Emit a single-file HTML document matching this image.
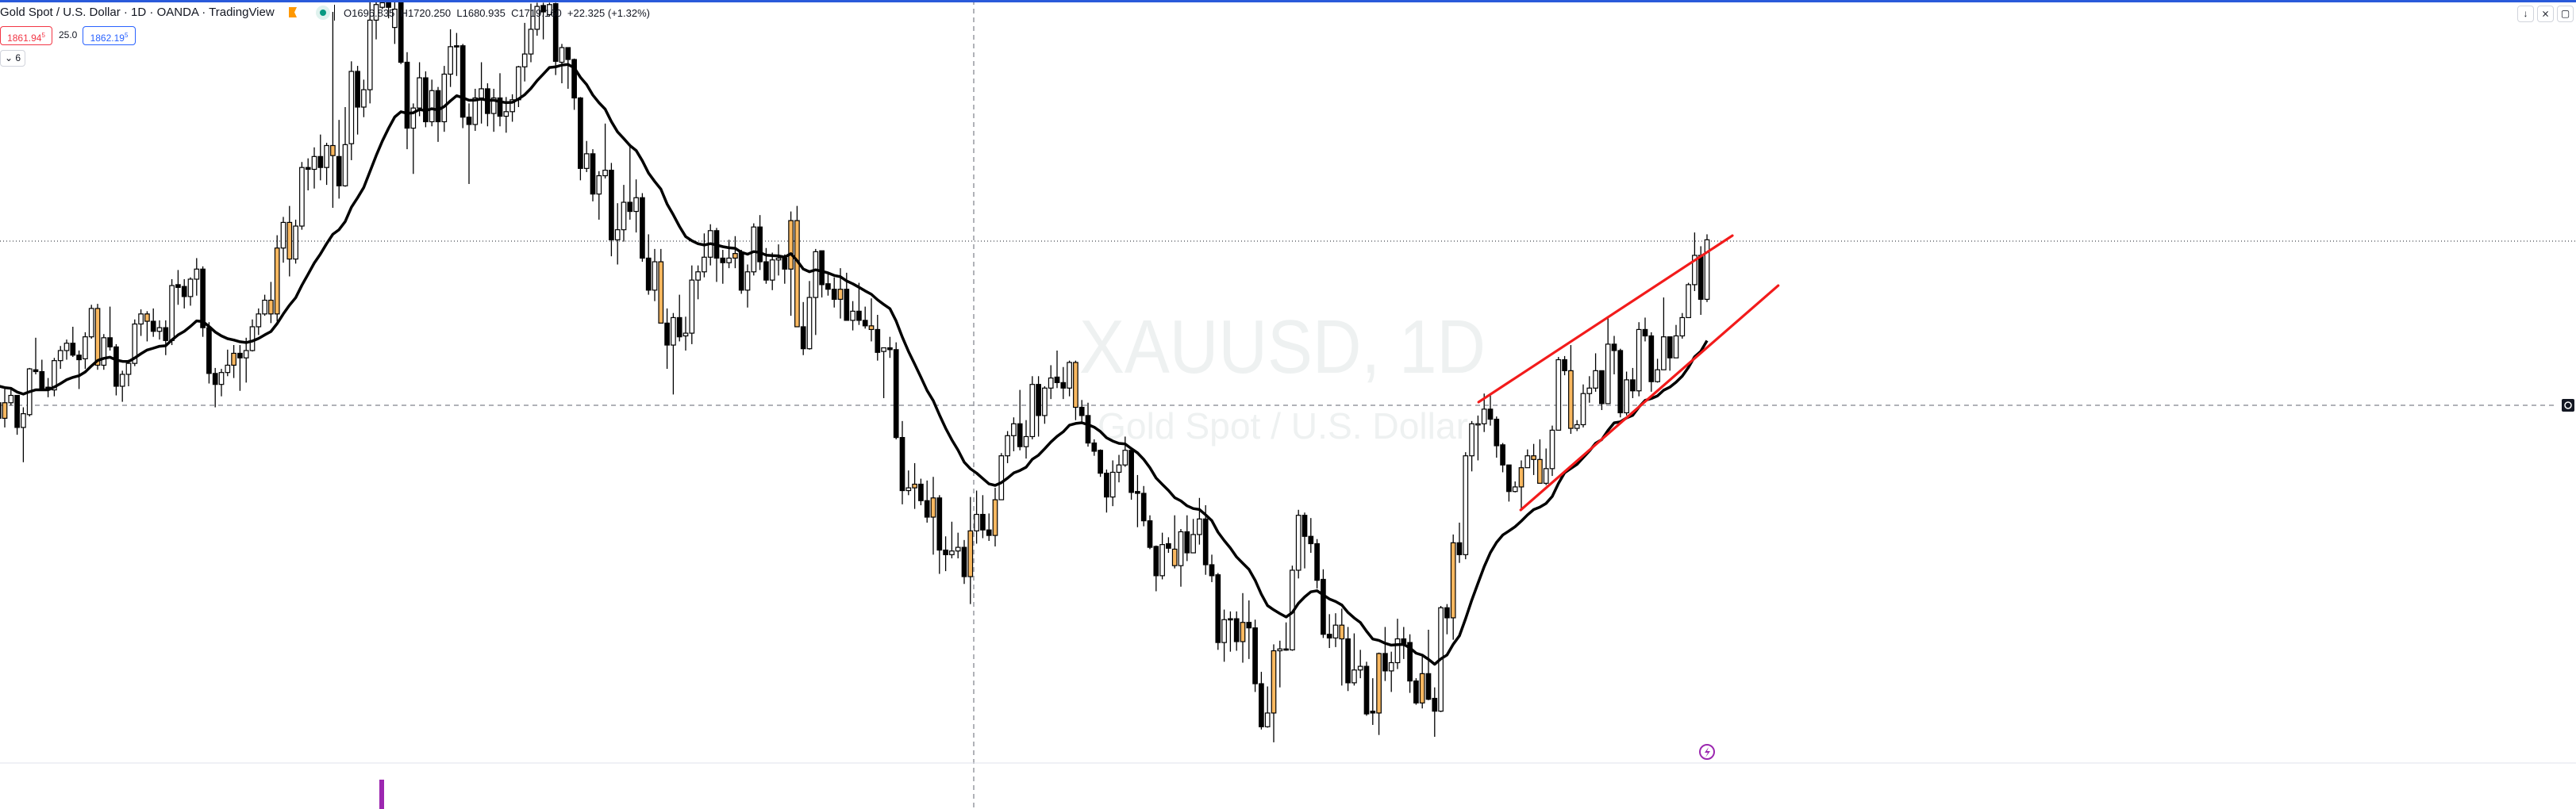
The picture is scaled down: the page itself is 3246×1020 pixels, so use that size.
<!DOCTYPE html>
<html><head><meta charset="utf-8">
<style>
html,body{margin:0;padding:0;background:#fff;width:3246px;height:1020px;overflow:hidden;font-family:"Liberation Sans",sans-serif;}
#wrap{position:relative;width:3246px;height:1020px;}
svg{position:absolute;left:0;top:0;}
.hdr{position:absolute;white-space:nowrap;color:#131722;}
.box{position:absolute;border:1px solid;border-radius:4px;font-size:12px;line-height:22px;text-align:center;background:#fff;}
.btn{position:absolute;top:7px;width:19px;height:19px;border:1px solid #d1d4dc;border-radius:4px;background:#fff;font-size:12px;line-height:19px;text-align:center;color:#131722;}
</style></head>
<body>
<div id="wrap">
<svg id="chart" width="3246" height="1020" viewBox="0 0 3246 1020">
  <g>
    <text x="1360" y="470" font-family="Liberation Sans, sans-serif" font-size="96" fill="#eef1f1" textLength="512" lengthAdjust="spacingAndGlyphs">XAUUSD, 1D</text>
    <text x="1383" y="553" font-family="Liberation Sans, sans-serif" font-size="46" fill="#eef1f1" textLength="467" lengthAdjust="spacingAndGlyphs">Gold Spot / U.S. Dollar</text>
  </g>
  <line x1="0" y1="304" x2="3246" y2="304" stroke="#131722" stroke-width="1" stroke-dasharray="1,3"/>
  <line x1="0" y1="511" x2="3222" y2="511" stroke="#9598a1" stroke-width="1.5" stroke-dasharray="6,5"/>
  <line x1="1227" y1="0" x2="1227" y2="1020" stroke="#9598a1" stroke-width="1.5" stroke-dasharray="6,5"/>
  <g id="candles"></g>
  <path id="ma" fill="none" stroke="#000" stroke-width="3.5" stroke-linejoin="round"/>
  <g id="trend"></g>
  <line x1="0" y1="962" x2="3246" y2="962" stroke="#e0e3eb" stroke-width="1"/>
  <rect x="478" y="983" width="6" height="37" fill="#9c27b0"/>
  <g>
    <circle cx="2151" cy="948" r="9" fill="#fff" stroke="#9c27b0" stroke-width="2"/>
    <path d="M2153 942 L2148 949 L2152 949 L2149 955 L2155 947 L2151 947 Z" fill="#9c27b0"/>
  </g>
  <g>
    <rect x="3228" y="503" width="16" height="16" rx="2" fill="#131722"/>
    <circle cx="3236" cy="511" r="4" fill="none" stroke="#fff" stroke-width="1.5"/>
  </g>
  <rect x="0" y="0" width="3246" height="3" fill="#2a5ada"/>
</svg>

<div class="hdr" style="left:0;top:7px;font-size:15px;">Gold Spot / U.S. Dollar · 1D · OANDA · TradingView</div>
<div style="position:absolute;left:364px;top:9px;width:10px;height:13px;background:#ff9800;clip-path:polygon(0 0,100% 0,70% 50%,100% 100%,0 100%);"></div>
<div style="position:absolute;left:398px;top:7px;width:18px;height:18px;border-radius:50%;background:#dff2ee;"><div style="position:absolute;left:5px;top:5px;width:8px;height:8px;border-radius:50%;background:#089981;"></div></div>
<div style="position:absolute;left:421px;top:6px;width:1px;height:20px;background:#000;"></div>
<div class="hdr" style="left:433px;top:9px;font-size:13px;">O1696.835 &nbsp;H1720.250 &nbsp;L1680.935 &nbsp;C1719.160 &nbsp;+22.325 (+1.32%)</div>
<div class="box" style="left:0;top:33px;width:64px;height:22px;border-color:#f23645;color:#f23645;">1861.94<sup style="font-size:8px">5</sup></div>
<div class="hdr" style="left:74px;top:37px;font-size:12px;">25.0</div>
<div class="box" style="left:104px;top:33px;width:65px;height:22px;border-color:#2962ff;color:#2962ff;">1862.19<sup style="font-size:8px">5</sup></div>
<div class="box" style="left:0;top:63px;width:30px;height:19px;line-height:19px;border-color:#d1d4dc;color:#131722;">⌄ 6</div>
<div class="btn" style="left:3172px;">↓</div>
<div class="btn" style="left:3197px;">⨯</div>
<div class="btn" style="left:3222px;">▢</div>
</div>

<script>
const opens=[1560,1543,1560,1568,1533,1547,1596,1594,1577,1574,1606,1617,1625,1612,1608,1632,1601,1601,1631,1621,1578,1591,1603,1646,1649,1649,1638,1642,1628,1689,1687,1676,1695,1706,1642,1592,1580,1593,1601,1614,1609,1617,1643,1657,1657,1657,1729,1717,1717,1753,1817,1815,1829,1817,1830,1829,1797,1843,1922,1883,1902,1978,1992,1998,1970,2000,1932,1860,1882,1915,1867,1901,1867,1919,1950,1950,1872,1864,1893,1903,1876,1893,1873,1878,1891,1927,1941,1968,1994,1984,1996,1932,1948,1935,1893,1816,1832,1788,1808,1814,1738,1749,1779,1769,1784,1718,1683,1647,1647,1623,1653,1633,1636,1694,1703,1719,1748,1718,1713,1718,1724,1683,1703,1752,1714,1694,1716,1718,1706,1759,1643,1619,1675,1726,1690,1684,1673,1684,1650,1660,1650,1640,1640,1616,1620,1618,1522,1464,1467,1471,1453,1435,1456,1399,1394,1398,1402,1370,1420,1438,1421,1415,1454,1502,1524,1537,1512,1523,1580,1546,1576,1588,1582,1576,1604,1555,1546,1516,1508,1483,1457,1484,1492,1508,1463,1461,1431,1403,1371,1406,1400,1382,1419,1396,1416,1433,1383,1372,1298,1324,1324,1299,1320,1314,1253,1206,1221,1289,1291,1290,1377,1437,1414,1406,1367,1307,1303,1317,1302,1254,1268,1272,1223,1221,1286,1267,1276,1302,1298,1256,1232,1264,1237,1223,1336,1325,1407,1394,1502,1536,1537,1553,1542,1514,1492,1463,1468,1489,1502,1498,1472,1488,1530,1607,1595,1532,1536,1570,1576,1595,1559,1624,1617,1549,1585,1573,1640,1633,1583,1596,1632,1609,1633,1653,1689,1721,1673];
const closes=[1543,1560,1568,1533,1548,1597,1594,1574,1574,1606,1617,1625,1612,1607,1632,1663,1663,1631,1621,1578,1591,1603,1646,1657,1657,1638,1642,1628,1688,1686,1676,1695,1706,1642,1592,1580,1593,1601,1614,1609,1617,1643,1657,1672,1672,1729,1757,1757,1753,1817,1815,1829,1817,1841,1841,1797,1842,1922,1883,1902,1978,1995,1997,1992,1990,1932,1860,1882,1915,1867,1901,1867,1919,1949,1949,1872,1864,1893,1903,1876,1893,1873,1878,1891,1927,1941,1968,1993,1987,1995,1933,1948,1935,1893,1816,1832,1788,1808,1814,1738,1749,1779,1769,1784,1718,1683,1714,1714,1623,1653,1632,1636,1694,1703,1719,1748,1718,1713,1718,1723,1683,1703,1752,1714,1694,1716,1718,1706,1759,1643,1619,1675,1725,1689,1684,1673,1684,1650,1660,1650,1644,1644,1615,1620,1618,1522,1464,1467,1471,1453,1435,1456,1399,1394,1398,1402,1370,1420,1438,1421,1415,1454,1502,1524,1537,1512,1523,1580,1546,1576,1587,1582,1576,1604,1555,1546,1516,1507,1483,1457,1484,1492,1508,1462,1461,1431,1402,1371,1405,1401,1382,1419,1396,1416,1433,1383,1371,1298,1323,1323,1299,1320,1314,1253,1206,1221,1289,1291,1290,1377,1437,1414,1406,1366,1307,1303,1317,1302,1254,1268,1272,1220,1221,1286,1267,1276,1302,1297,1256,1232,1264,1236,1223,1336,1325,1407,1394,1502,1537,1537,1553,1542,1513,1492,1463,1468,1489,1502,1498,1472,1488,1530,1607,1595,1532,1536,1570,1576,1595,1559,1624,1617,1549,1585,1573,1640,1633,1583,1596,1632,1609,1633,1653,1689,1721,1673,1738];
const highs=[1565,1575,1575,1568,1555,1598,1631,1607,1587,1609,1622,1629,1643,1617,1637,1667,1668,1635,1665,1624,1595,1607,1651,1662,1660,1663,1650,1650,1695,1705,1695,1697,1718,1709,1648,1598,1597,1618,1623,1623,1631,1651,1663,1678,1692,1743,1763,1775,1760,1823,1827,1839,1853,1844,1987,1869,1883,1933,1928,1913,2000,2010,2010,2010,2010,2010,1943,1887,1932,1922,1913,1905,1928,1968,1964,1952,1887,1903,1932,1909,1903,1920,1894,1897,1928,1975,1996,1997,1997,1997,1997,1952,1948,1936,1894,1846,1837,1813,1865,1822,1778,1798,1843,1804,1789,1744,1728,1728,1663,1658,1678,1654,1710,1710,1745,1755,1751,1727,1738,1742,1727,1711,1756,1765,1729,1724,1733,1722,1769,1775,1670,1693,1728,1726,1702,1697,1707,1702,1671,1691,1665,1674,1656,1620,1632,1626,1540,1486,1494,1477,1475,1479,1459,1414,1430,1418,1410,1457,1464,1459,1439,1467,1505,1529,1544,1574,1541,1589,1589,1578,1601,1617,1599,1606,1606,1563,1560,1520,1509,1487,1497,1503,1523,1509,1481,1469,1437,1404,1418,1413,1437,1422,1437,1433,1456,1448,1394,1374,1334,1332,1332,1352,1344,1323,1266,1250,1296,1300,1320,1382,1443,1440,1434,1411,1378,1329,1330,1335,1315,1308,1290,1277,1259,1287,1315,1288,1324,1315,1307,1259,1284,1312,1249,1338,1340,1416,1429,1506,1540,1546,1570,1570,1545,1516,1492,1474,1497,1509,1515,1520,1510,1535,1610,1611,1623,1541,1580,1589,1614,1595,1653,1633,1619,1594,1598,1648,1653,1637,1608,1675,1632,1645,1658,1691,1746,1731,1744];
const lows=[1538,1533,1557,1525,1495,1545,1591,1573,1566,1567,1597,1607,1610,1575,1597,1630,1596,1596,1617,1568,1561,1578,1600,1633,1627,1632,1629,1612,1623,1667,1663,1666,1677,1632,1581,1555,1567,1589,1587,1573,1582,1616,1634,1655,1647,1649,1713,1698,1712,1749,1792,1794,1803,1798,1773,1783,1796,1825,1853,1872,1887,1957,1990,1980,1952,1930,1837,1810,1873,1861,1862,1845,1856,1905,1917,1860,1799,1857,1865,1862,1856,1862,1855,1867,1883,1911,1932,1961,1957,1982,1918,1909,1903,1880,1803,1812,1780,1760,1805,1720,1711,1736,1760,1746,1714,1678,1671,1647,1597,1569,1627,1617,1624,1673,1697,1710,1692,1690,1707,1707,1679,1664,1699,1705,1690,1683,1699,1690,1655,1643,1612,1618,1634,1675,1677,1664,1652,1650,1639,1645,1641,1627,1606,1565,1609,1520,1449,1459,1444,1448,1429,1394,1373,1376,1390,1390,1362,1340,1406,1412,1409,1403,1454,1494,1507,1508,1499,1520,1523,1537,1564,1576,1564,1567,1541,1537,1512,1502,1479,1440,1447,1473,1490,1454,1424,1425,1400,1354,1367,1396,1379,1359,1387,1396,1405,1372,1364,1290,1277,1288,1289,1276,1280,1244,1203,1205,1189,1249,1289,1289,1368,1379,1396,1357,1303,1292,1293,1251,1245,1251,1259,1218,1208,1197,1256,1244,1269,1280,1243,1230,1226,1235,1195,1222,1307,1301,1385,1389,1485,1497,1528,1535,1500,1484,1452,1462,1442,1489,1481,1472,1470,1480,1530,1590,1526,1529,1533,1560,1572,1552,1559,1591,1544,1546,1565,1567,1627,1572,1582,1596,1595,1609,1630,1653,1682,1656,1670];
const highlighted=[1,16,24,38,44,45,47,54,107,119,128,129,136,141,148,151,157,161,174,190,201,206,217,223,230,235,246,248,249,254];
const maPeriod=20;
const maStart=1582;
const upperTrend=[[239.1,1560.7],[280.1,1742.6]];
const lowerTrend=[[245.9,1442.8],[287.5,1688.0]];

const P_TOP=2000, PX_PER_UNIT=1.154, X0=-1.8, STEP=7.8, BODY_W=5.5;
function yOf(p){return (P_TOP-p)*PX_PER_UNIT;}
function xOf(i){return X0+i*STEP;}
const NS='http://www.w3.org/2000/svg';
const g=document.getElementById('candles');
for(let i=0;i<opens.length;i++){
  const o=opens[i],c=closes[i],h=highs[i],l=lows[i];
  const x=xOf(i);
  const up=c>=o;
  const fill=highlighted.indexOf(i)>=0?'#f9b860':(up?'#ffffff':'#000000');
  const cg=document.createElementNS(NS,'g');
  
  
  const w=document.createElementNS(NS,'line');
  w.setAttribute('x1',x);w.setAttribute('x2',x);
  w.setAttribute('y1',yOf(h));w.setAttribute('y2',yOf(l));
  w.setAttribute('stroke','#000');w.setAttribute('stroke-width','1.3');
  
  
  cg.appendChild(w);
  const top=yOf(Math.max(o,c)),bot=yOf(Math.min(o,c));
  const r=document.createElementNS(NS,'rect');
  r.setAttribute('x',x-BODY_W/2);r.setAttribute('y',top);
  r.setAttribute('width',BODY_W);r.setAttribute('height',Math.max(1.5,bot-top));
  r.setAttribute('fill',fill);r.setAttribute('stroke','#000');r.setAttribute('stroke-width','1.2');
  
  
  cg.appendChild(r);
  g.appendChild(cg);
}
// exponential moving average of closes
let ema=maStart, d='';
const k=2/(maPeriod+1);
for(let i=0;i<closes.length;i++){
  ema=closes[i]*k+ema*(1-k);
  d+=(i?'L':'M')+xOf(i).toFixed(1)+' '+yOf(ema).toFixed(1);
}
document.getElementById('ma').setAttribute('d',d);
const tg=document.getElementById('trend');
[upperTrend,lowerTrend].forEach(function(t,j){
  const ln=document.createElementNS(NS,'line');
  ln.setAttribute('x1',xOf(t[0][0]));ln.setAttribute('y1',yOf(t[0][1]));
  ln.setAttribute('x2',xOf(t[1][0]));ln.setAttribute('y2',yOf(t[1][1]));
  ln.setAttribute('stroke','#f21b1b');ln.setAttribute('stroke-width','3.2');ln.setAttribute('stroke-linecap','round');
  
  
  tg.appendChild(ln);
});
</script>
</body></html>
